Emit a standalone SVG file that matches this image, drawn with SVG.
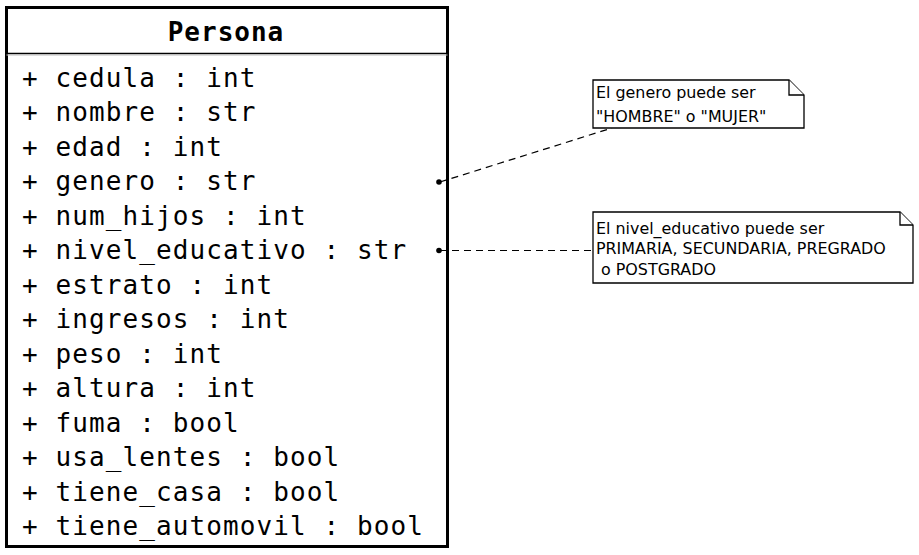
<svg xmlns="http://www.w3.org/2000/svg" width="919" height="555" viewBox="0 0 919 555">
<style>
.attr{font-family:"DejaVu Sans Mono","Liberation Mono",monospace;font-size:26px;letter-spacing:1.1px;fill:#000}
.title{font-family:"DejaVu Sans Mono","Liberation Mono",monospace;font-size:26px;font-weight:bold;letter-spacing:1px;fill:#000}
.note{font-family:"DejaVu Sans","Liberation Sans",sans-serif;font-size:15.9px;fill:#000}
.nbox{fill:#fff;stroke:#000;stroke-width:1.3}
.conn{stroke:#000;stroke-width:1.2;stroke-dasharray:7,5;fill:none}
</style>
<rect width="919" height="555" fill="#fff"/>
<g id="Persona">
<rect x="6.5" y="7.5" width="441" height="539" fill="#fff" stroke="#000" stroke-width="3"/>
<line x1="6.5" y1="53.5" x2="447.5" y2="53.5" stroke="#000" stroke-width="1.5"/>
<line x1="6.5" y1="55" x2="447.5" y2="55" stroke="#bbb" stroke-width="1"/>
<text class="title" x="226" y="41" text-anchor="middle">Persona</text>
<text class="attr" x="22" y="86.5">+ cedula : int</text>
<text class="attr" x="22" y="121">+ nombre : str</text>
<text class="attr" x="22" y="155.5">+ edad : int</text>
<text class="attr" x="22" y="190">+ genero : str</text>
<text class="attr" x="22" y="224.5">+ num_hijos : int</text>
<text class="attr" x="22" y="259">+ nivel_educativo : str</text>
<text class="attr" x="22" y="293.5">+ estrato : int</text>
<text class="attr" x="22" y="328">+ ingresos : int</text>
<text class="attr" x="22" y="362.5">+ peso : int</text>
<text class="attr" x="22" y="397">+ altura : int</text>
<text class="attr" x="22" y="431.5">+ fuma : bool</text>
<text class="attr" x="22" y="466">+ usa_lentes : bool</text>
<text class="attr" x="22" y="500.5">+ tiene_casa : bool</text>
<text class="attr" x="22" y="535">+ tiene_automovil : bool</text>
</g>
<g id="connectors">
<line class="conn" x1="440" y1="182" x2="612" y2="128"/>
<circle cx="439" cy="182" r="2.8" fill="#000"/>
<line class="conn" x1="440" y1="250.5" x2="593" y2="250.5"/>
<circle cx="439" cy="250.5" r="2.8" fill="#000"/>
</g>
<g id="note1">
<path class="nbox" d="M593,80 H789 L804,95 V128 H593 Z"/>
<path class="nbox" d="M789,80 V95 H804" fill="none"/>
<text class="note" x="596" y="98">El genero puede ser</text>
<text class="note" x="596" y="122">"HOMBRE" o "MUJER"</text>
</g>
<g id="note2">
<path class="nbox" d="M593,212 H900 L913,225 V283 H593 Z"/>
<path class="nbox" d="M900,212 V225 H913" fill="none"/>
<text class="note" x="596" y="234">El nivel_educativo puede ser</text>
<text class="note" x="596" y="254">PRIMARIA, SECUNDARIA, PREGRADO</text>
<text class="note" x="601" y="275">o POSTGRADO</text>
</g>
</svg>
